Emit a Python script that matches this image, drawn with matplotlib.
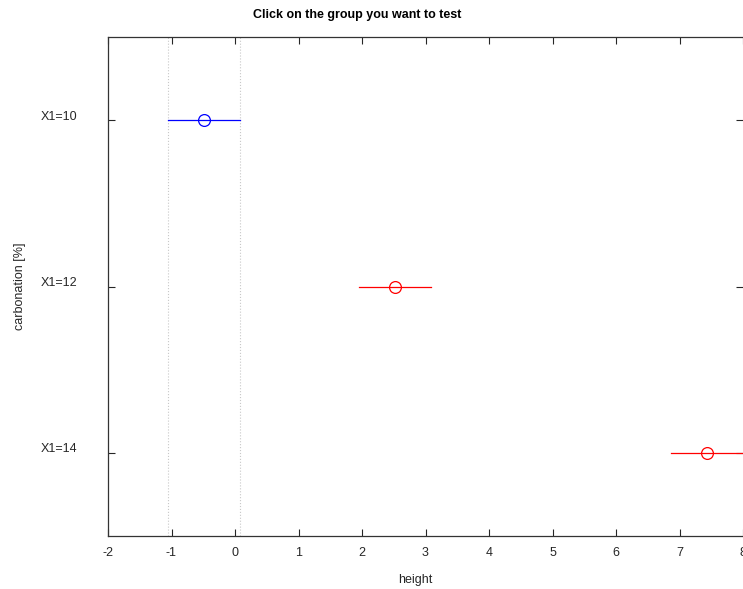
import numpy as np
import matplotlib.pyplot as plt
import matplotlib.transforms as mtransforms

plt.rcParams['font.family'] = ['Liberation Sans', 'DejaVu Sans']
plt.rcParams['axes.unicode_minus'] = False

# group labels (top to bottom) and comparison intervals
groups = ['X1=10', 'X1=12', 'X1=14']
means = [-0.49, 2.52, 7.43]
lower = [-1.05, 1.95, 6.87]
upper = [0.08, 3.08, 7.99]
colors = ['blue', 'red', 'red']

fig = plt.figure(figsize=(7.43, 5.89), dpi=100)
ax = fig.add_axes([108 / 743, 1 - 536 / 589, 1 - 108 / 743, (536 - 37) / 589])

pos = np.arange(1, len(groups) + 1)
for p, m, lo, hi, c in zip(pos, means, lower, upper, colors):
    ax.plot([lo, hi], [p, p], color=c, lw=0.9)
    ax.plot(m, p, 'o', mfc='none', mec=c, ms=8.5, mew=0.9)

# dotted reference lines at the selected group's interval
ax.axvline(lower[0], color='#c8c8c8', ls=':', lw=0.8, zorder=0)
ax.axvline(upper[0], color='#c8c8c8', ls=':', lw=0.8, zorder=0)

ax.set_xlim(-2, 8)
ax.set_ylim(3.5, 0.5)
ax.set_xticks(np.arange(-2, 9))
ax.set_yticks(pos)
ax.set_yticklabels(groups)
ax.tick_params(direction='in', length=5, width=0.8, color='#262626',
               labelsize=9, labelcolor='#262626',
               top=True, right=True)
ax.tick_params(axis='x', pad=8)
ax.tick_params(axis='y', pad=22)
# y labels sit a little above their ticks
shift = mtransforms.ScaledTranslation(0, 5 / 100, fig.dpi_scale_trans)
for lbl in ax.get_yticklabels():
    lbl.set_transform(lbl.get_transform() + shift)
for s in ax.spines.values():
    s.set_color('#333333')
    s.set_linewidth(0.9)
ax.spines['right'].set_visible(False)

fig.text(357 / 743, 1 - 15 / 589, 'Click on the group you want to test',
         ha='center', va='center', fontsize=9, fontweight='bold')
fig.text(415 / 743, 1 - 580 / 589, 'height', ha='center', va='center',
         fontsize=9, color='#262626')
fig.text(20 / 743, 1 - 286 / 589, 'carbonation [%]', ha='center', va='center',
         rotation=90, fontsize=9, color='#262626')

fig.savefig('out.png', dpi=100)
